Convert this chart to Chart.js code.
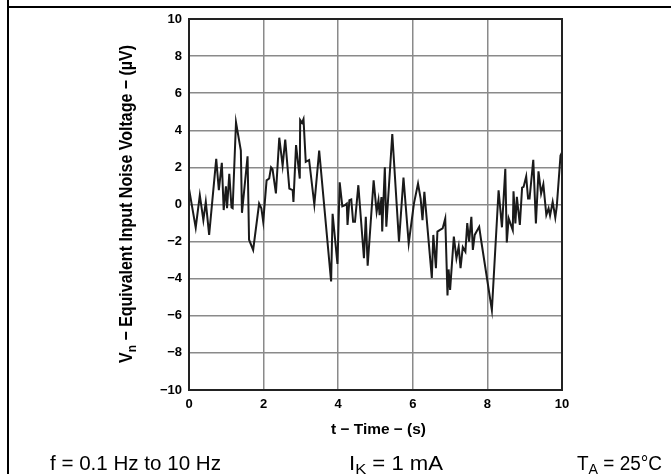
<!DOCTYPE html>
<html>
<head>
<meta charset="utf-8">
<script src="https://cdn.jsdelivr.net/npm/chart.js@4/dist/chart.umd.min.js"></script>
<style>
	body { margin: 0; background: #fff; }
	#noise { display: block; }
</style>
</head>
<body>
<canvas id="noise" width="671" height="474"></canvas>
<script>
// time in seconds, noise in uV
const times = [
	0.00, 0.18, 0.29, 0.385, 0.45, 0.54, 0.73, 0.80, 0.88, 0.93,
	0.99, 1.02, 1.08, 1.14, 1.17, 1.26, 1.39, 1.42, 1.57, 1.61,
	1.72, 1.88, 1.94, 1.99, 2.08, 2.15, 2.20, 2.24, 2.33, 2.42,
	2.51, 2.58, 2.69, 2.78, 2.80, 2.87, 2.97, 2.98, 3.03, 3.07,
	3.13, 3.22, 3.36, 3.49, 3.81, 3.85, 3.98, 4.04, 4.11, 4.17,
	4.23, 4.25, 4.30, 4.35, 4.40, 4.45, 4.54, 4.69, 4.74, 4.79,
	4.95, 5.03, 5.08, 5.11, 5.16, 5.18, 5.25, 5.29, 5.45, 5.63,
	5.75, 5.89, 6.03, 6.14, 6.21, 6.26, 6.31, 6.51, 6.55, 6.62,
	6.66, 6.72, 6.80, 6.87, 6.93, 6.96, 7.00, 7.10, 7.17, 7.23,
	7.28, 7.34, 7.41, 7.46, 7.51, 7.57, 7.61, 7.66, 7.71, 7.78,
	7.83, 8.12, 8.30, 8.39, 8.48, 8.52, 8.57, 8.68, 8.70, 8.75,
	8.79, 8.87, 8.93, 8.97, 9.04, 9.09, 9.13, 9.23, 9.30, 9.37,
	9.44, 9.50, 9.58, 9.64, 9.68, 9.75, 9.82, 9.86, 9.96, 10.00
];
const noise = [
	0.86, -1.25, 0.5, -0.84, 0.14, -1.64, 2.46, 0.77, 2.25, -0.3,
	0.98, -0.2, 1.66, -0.16, -0.2, 4.43, 2.9, -0.45, 2.6, -1.9,
	-2.45, 0.05, -0.2, -0.93, 1.3, 1.4, 2.0, 1.9, 0.6, 3.6,
	2.1, 3.5, 0.86, 0.77, 0.14, 3.2, 1.4, 4.55, 4.4, 4.6,
	2.3, 2.4, 0.0, 2.9, -4.15, -0.5, -3.2, 1.2, -0.1, -0.05,
	0.05, -1.1, 0.23, 0.27, -0.93, -0.93, 1.04, -2.9, -0.66, -3.3,
	1.3, -0.4, 0.23, -0.57, 0.4, -1.46, 2.0, -1.2, 3.8, -2.0,
	1.45, -2.1, 0.05, 1.13, 0.32, -0.84, 0.68, -3.96, -1.64, -3.43,
	-1.46, -1.38, -1.29, -0.75, -4.9, -3.5, -4.6, -1.73, -2.9, -2.27,
	-3.43, -2.3, -2.54, -1.0, -2.0, -0.66, -2.45, -1.64, -1.46, -1.2,
	-1.9, -5.7, 0.77, -1.23, 1.93, -2.05, -0.75, -1.38, 0.71, -1.02,
	0.41, -1.1, 0.91, 0.95, 1.52, 0.32, 0.32, 2.41, -1.02, 1.79,
	0.59, 1.09, -0.57, -0.21, -0.6, 0.14, -0.7, -0.1, 2.64, 2.8
];
const xTicks = [ 0, 2, 4, 6, 8, 10 ];
const yTicks = [ -10, -8, -6, -4, -2, 0, 2, 4, 6, 8, 10 ];

const points = times.map( ( t, i ) => ( { x: t, y: noise[ i ] } ) );
const minus = ( v ) => String( v ).replace( '-', '\u2212' );
const FONT = '"Liberation Sans", Arial, sans-serif';

const setFont = ( ctx, size, bold ) => {
	ctx.font = ( bold ? 'bold ' : '' ) + size + 'px ' + FONT;
};
// natural width of a run of [text, isSubscript] pieces
const runsWidth = ( ctx, runs, size, bold ) => {
	let w = 0;
	runs.forEach( ( r ) => {
		setFont( ctx, r[ 1 ] ? size * 0.75 : size, bold );
		w += ctx.measureText( r[ 0 ] ).width;
	} );
	return w;
};
// draws the runs starting at x, squeezed/stretched to the given width
const drawFit = ( ctx, runs, x, y, size, bold, width ) => {
	const k = width / runsWidth( ctx, runs, size, bold );
	let cx = 0;
	ctx.save();
	ctx.translate( x, y );
	ctx.scale( k, 1 );
	ctx.textBaseline = 'alphabetic';
	ctx.textAlign = 'left';
	runs.forEach( ( r ) => {
		const sub = r[ 1 ];
		setFont( ctx, sub ? size * 0.75 : size, bold );
		ctx.fillText( r[ 0 ], cx, sub ? size * 0.22 : 0 );
		cx += ctx.measureText( r[ 0 ] ).width;
	} );
	ctx.restore();
};

const decor = {
	id: 'decor',
	beforeDraw( chart ) {
		const ctx = chart.ctx;
		ctx.save();
		ctx.strokeStyle = '#000';
		ctx.lineWidth = 2;
		ctx.beginPath();
		ctx.moveTo( 8, 0 );
		ctx.lineTo( 8, 474 );
		ctx.moveTo( 8, 7 );
		ctx.lineTo( 671, 7 );
		ctx.stroke();
		ctx.restore();
	},
	afterDraw( chart ) {
		const ctx = chart.ctx;
		const a = chart.chartArea;
		ctx.save();
		ctx.strokeStyle = '#222';
		ctx.lineWidth = 2;
		ctx.strokeRect( a.left, a.top, a.right - a.left, a.bottom - a.top );
		ctx.fillStyle = '#000';

		// x axis title
		drawFit( ctx, [ [ 't \u2212 Time \u2212 (s)', false ] ], 331, 434, 15, true, 95 );

		// y axis title, rotated
		const yt = [
			[ 'V', false ], [ 'n', true ],
			[ ' \u2212 Equivalent Input Noise Voltage \u2212 (\u00b5V)', false ],
		];
		ctx.save();
		ctx.translate( 132, 363 );
		ctx.rotate( -Math.PI / 2 );
		drawFit( ctx, yt, 0, 0, 18, true, 318 );
		ctx.restore();

		// conditions line
		drawFit( ctx, [ [ 'f = 0.1 Hz to 10 Hz', false ] ], 50, 470, 20, false, 171 );
		drawFit( ctx, [ [ 'I', false ], [ 'K', true ], [ ' = 1 mA', false ] ], 349, 470, 20, false, 94 );
		drawFit( ctx, [ [ 'T', false ], [ 'A', true ], [ ' = 25\u00b0C', false ] ], 577, 470, 20, false, 85 );
		ctx.restore();
	},
};

new Chart( document.getElementById( 'noise' ), {
	type: 'line',
	data: {
		datasets: [
			{
				data: points,
				borderColor: '#1a1a1a',
				borderWidth: 2,
				pointRadius: 0,
				tension: 0,
				fill: false,
			},
		],
	},
	options: {
		responsive: false,
		animation: false,
		events: [],
		layout: { padding: { left: 0, top: 19, right: 109, bottom: 0 } },
		plugins: { legend: { display: false }, tooltip: { enabled: false } },
		scales: {
			x: {
				type: 'linear',
				min: 0,
				max: 10,
				afterFit: ( s ) => { s.height = 84; },
				afterBuildTicks: ( s ) => { s.ticks = xTicks.map( ( v ) => ( { value: v } ) ); },
				ticks: {
					callback: minus,
					color: '#000',
					padding: 7,
					maxRotation: 0,
					font: { family: FONT, size: 13, weight: 'bold' },
				},
				grid: { color: '#8a8a8a', lineWidth: 1.5, drawTicks: false },
				border: { color: '#222', width: 2 },
			},
			y: {
				min: -10,
				max: 10,
				afterFit: ( s ) => { s.width = 189; },
				afterBuildTicks: ( s ) => { s.ticks = yTicks.map( ( v ) => ( { value: v } ) ); },
				ticks: {
					callback: minus,
					color: '#000',
					padding: 7,
					font: { family: FONT, size: 13, weight: 'bold' },
				},
				grid: { color: '#8a8a8a', lineWidth: 1.5, drawTicks: false },
				border: { color: '#222', width: 2 },
			},
		},
	},
	plugins: [ decor ],
} );
</script>
</body>
</html>
